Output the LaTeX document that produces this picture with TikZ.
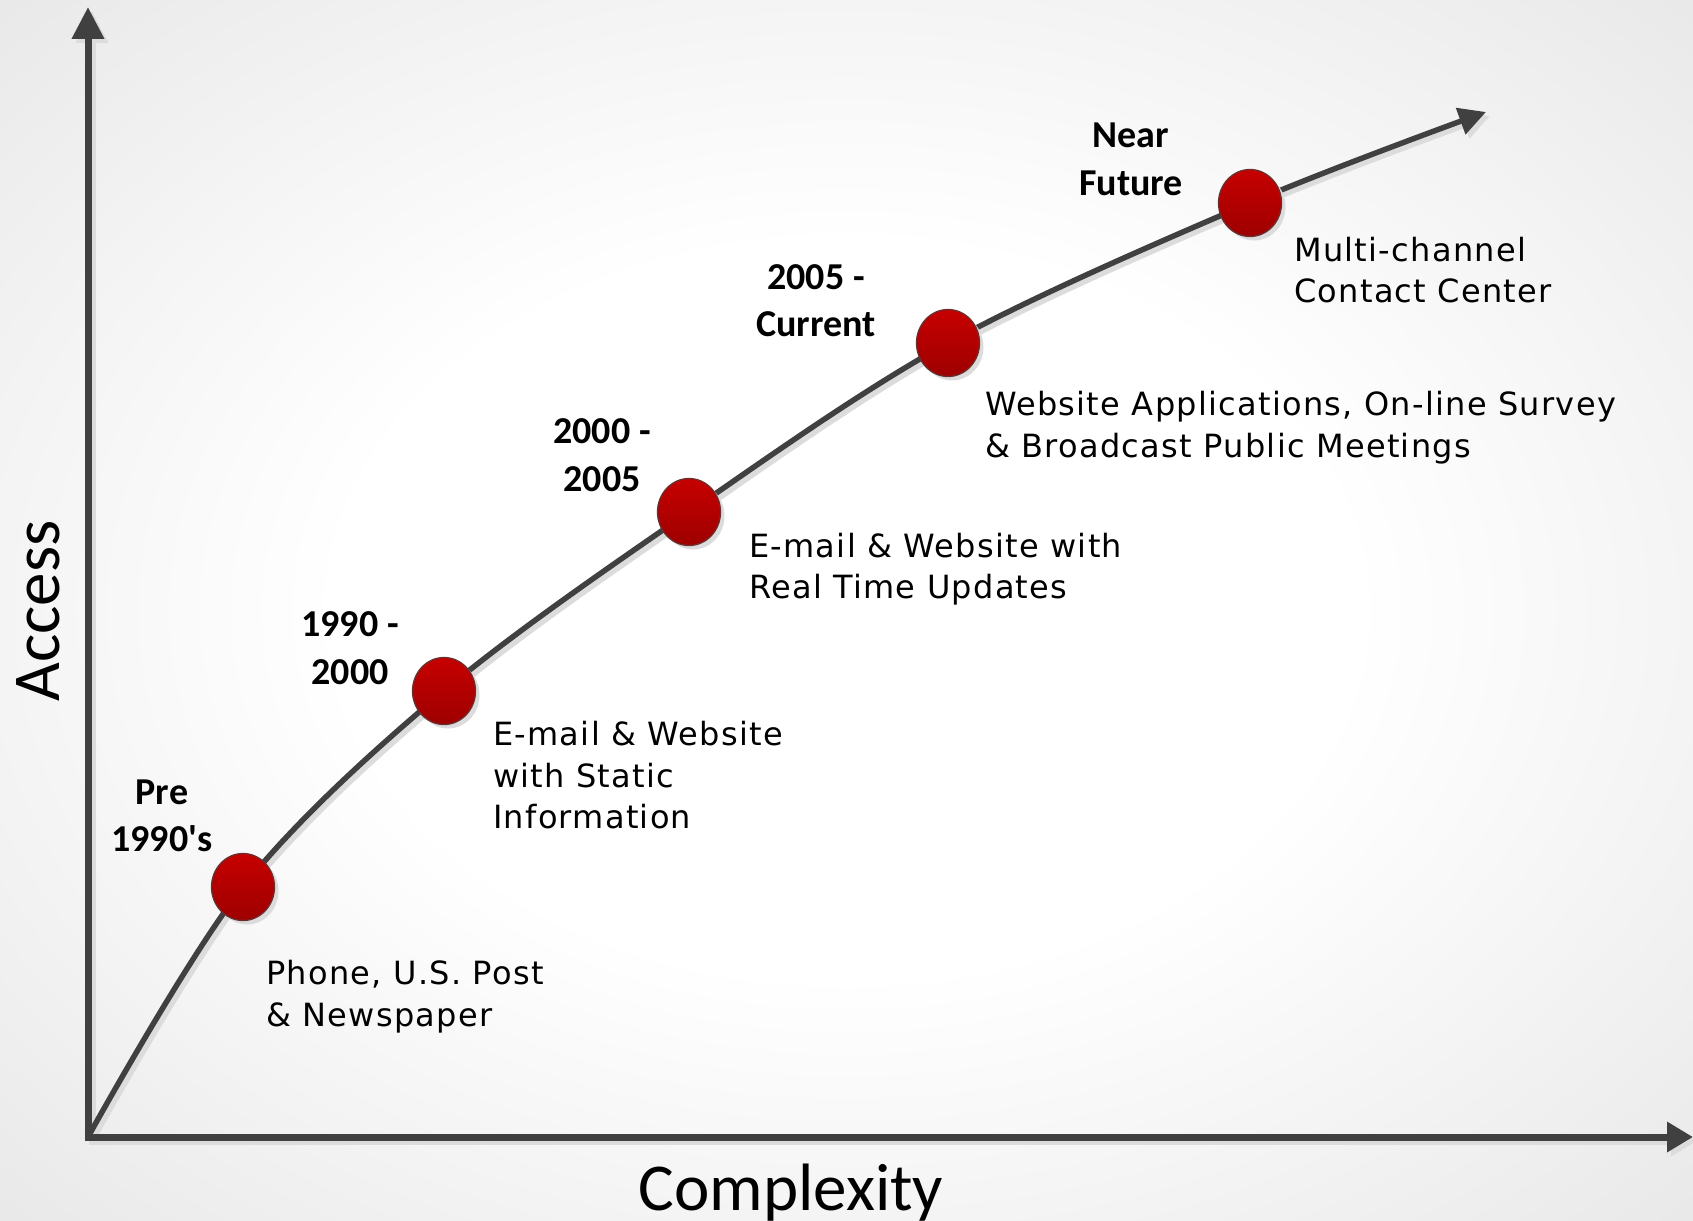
\documentclass[tikz,border=0pt]{standalone}
\usepackage{fontspec}
\setmainfont{DejaVu Sans}
\newfontfamily\lblfont{Carlito}
\newfontfamily\descfont[LetterSpace=4]{DejaVu Sans}
\usetikzlibrary{arrows.meta,shapes.geometric,shadows}
\definecolor{axisgray}{HTML}{404040}
\definecolor{shadowgray}{HTML}{DCDCDC}
\definecolor{bgcorner}{HTML}{E8E8E8}
\definecolor{ballhi}{HTML}{C60000}
\definecolor{balllo}{HTML}{9E0000}
\definecolor{ballline}{HTML}{6A3030}
\pgfdeclareradialshading{bgshade}{\pgfpoint{0bp}{0bp}}{color(0bp)=(white); color(15bp)=(white); color(36bp)=(bgcorner); color(50bp)=(bgcorner)}
\begin{document}
\begin{tikzpicture}[x=1pt,y=-1pt,
  axisline/.style={draw=axisgray, line width=7pt, line join=miter},
  curveline/.style={draw=axisgray, line width=5.5pt},
  shadowaxis/.style={draw=shadowgray, line width=7pt, line join=miter},
  shadowcurve/.style={draw=shadowgray, line width=5.5pt},
  ball/.style={ellipse, minimum width=63pt, minimum height=67pt, inner sep=0pt,
    top color=ballhi, bottom color=balllo, draw=ballline, line width=1.3pt,
    drop shadow={shadow xshift=4pt, shadow yshift=-4pt, fill=shadowgray, opacity=1}},
  lbl/.style={font=\lblfont\bfseries\fontsize{38}{47.5}\selectfont, align=center, inner sep=0pt, anchor=base},
  desc/.style={font=\descfont\fontsize{32}{41.5}\selectfont, align=left, inner sep=0pt, anchor=base west},
  axtitle/.style={font=\lblfont\fontsize{67}{80}\selectfont, inner sep=0pt, anchor=base}]
\useasboundingbox (0,0) rectangle (1693,1220);
\shade[shading=bgshade] (0,0) rectangle (1693,1220);

\coordinate (o) at (88,1137);
\coordinate (ytip) at (88,7);
\coordinate (xtip) at (1693,1137);
\coordinate (c1) at (243,887);
\coordinate (c2) at (444,691);
\coordinate (c3) at (689,512);
\coordinate (c4) at (948,343);
\coordinate (c5) at (1250,203);
\coordinate (ctip) at (1486,112);

% shadows
\begin{scope}[transform canvas={shift={(4,4)}}]
  \draw[shadowaxis, {Triangle[length=32pt,width=31pt]}-{Triangle[length=26pt,width=29pt]}] (ytip) -- (o) -- (xtip);
  \draw[shadowcurve, -{Triangle[length=27pt,width=27pt]}] plot[smooth, tension=0.55] coordinates {(o) (c1) (c2) (c3) (c4) (c5) (ctip)};
\end{scope}

% axes
\draw[axisline, {Triangle[length=32pt,width=31pt]}-{Triangle[length=26pt,width=29pt]}] (ytip) -- (o) -- (xtip);
% curve
\draw[curveline, -{Triangle[length=27pt,width=27pt]}] plot[smooth, tension=0.55] coordinates {(o) (c1) (c2) (c3) (c4) (c5) (ctip)};

% balls
\node[ball] (b1) at (c1) {};
\node[ball] (b2) at (c2) {};
\node[ball] (b3) at (c3) {};
\node[ball] (b4) at (c4) {};
\node[ball] (b5) at (c5) {};

% period labels (anchor = baseline of last line)
\node[lbl] (l1) at (162,851.5) {Pre\\1990's};
\node[lbl] (l2) at (350,684) {1990 -\\2000};
\node[lbl] (l3) at (602,491) {2000 -\\2005};
\node[lbl] (l4) at (816,336.5) {2005 -\\Current};
\node[lbl] (l5) at (1131,195) {Near\\Future};

% descriptions (anchor = baseline of last line)
\node[desc] (d1) at (266,1026) {Phone, U.S. Post\\\& Newspaper};
\node[desc] (d2) at (493,828.5) {E-mail \& Website\\with Static\\Information};
\node[desc] (d3) at (749,598.5) {E-mail \& Website with\\Real Time Updates};
\node[desc] (d4) at (985,457) {Website Applications, On-line Survey\\\& Broadcast Public Meetings};
\node[desc] (d5) at (1294,302.5) {Multi-channel\\Contact Center};

% axis titles
\node[axtitle, rotate=90] (ya) at (59,611) {Access};
\node[axtitle] (xa) at (791,1210) {Complexity};
\end{tikzpicture}
\end{document}
